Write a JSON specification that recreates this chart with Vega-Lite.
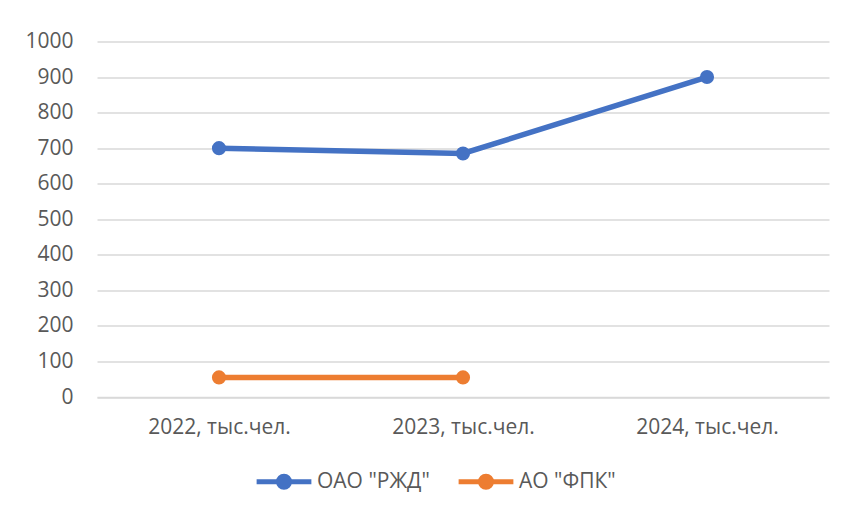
{
  "$schema": "https://vega.github.io/schema/vega-lite/v6.json",
  "width": 732,
  "height": 355.5,
  "autosize": {"type": "none"},
  "padding": {"left": 97, "top": 41.5, "right": 17, "bottom": 116},
  "background": "white",
  "data": {
    "values": [
      {"year": "2022, тыс.чел.", "company": "ОАО \"РЖД\"", "value": 700},
      {"year": "2023, тыс.чел.", "company": "ОАО \"РЖД\"", "value": 685},
      {"year": "2024, тыс.чел.", "company": "ОАО \"РЖД\"", "value": 900},
      {"year": "2022, тыс.чел.", "company": "АО \"ФПК\"", "value": 55},
      {"year": "2023, тыс.чел.", "company": "АО \"ФПК\"", "value": 55}
    ]
  },
  "mark": {"type": "line", "strokeWidth": 5.5, "point": {"filled": true, "size": 200, "opacity": 1}},
  "encoding": {
    "x": {
      "field": "year",
      "type": "nominal",
      "sort": null,
      "scale": {"padding": 0.5},
      "axis": {
        "title": null,
        "labelAngle": 0,
        "labelFont": "Open Sans",
        "labelFontSize": 21,
        "labelColor": "#595959",
        "labelPadding": 19,
        "ticks": false,
        "domainColor": "#D9D9D9",
        "domainWidth": 1.5,
        "grid": false
      }
    },
    "y": {
      "field": "value",
      "type": "quantitative",
      "scale": {"domain": [0, 1000], "nice": false},
      "axis": {
        "title": null,
        "format": "d",
        "values": [0, 100, 200, 300, 400, 500, 600, 700, 800, 900, 1000],
        "labelFont": "Open Sans",
        "labelFontSize": 21,
        "labelColor": "#595959",
        "labelPadding": 24,
        "ticks": false,
        "domain": false,
        "gridColor": "#D9D9D9",
        "gridWidth": 1.5
      }
    },
    "color": {
      "field": "company",
      "type": "nominal",
      "scale": {"domain": ["ОАО \"РЖД\"", "АО \"ФПК\""], "range": ["#4472C4", "#ED7D31"]},
      "legend": {
        "title": null,
        "orient": "none",
        "direction": "horizontal",
        "legendX": 157,
        "legendY": 410,
        "labelFont": "Open Sans",
        "labelFontSize": 21,
        "labelColor": "#595959",
        "labelOffset": 3,
        "columnPadding": 18,
        "symbolType": "M-1,0L1,0M0.2,0A0.2,0.2,0,1,1,-0.2,0A0.2,0.2,0,1,1,0.2,0Z",
        "symbolSize": 3000,
        "symbolStrokeWidth": 5,
        "symbolFillColor": null
      }
    }
  },
  "config": {
    "view": {"stroke": null},
    "legend": {"symbolStrokeWidth": 5}
  }
}
